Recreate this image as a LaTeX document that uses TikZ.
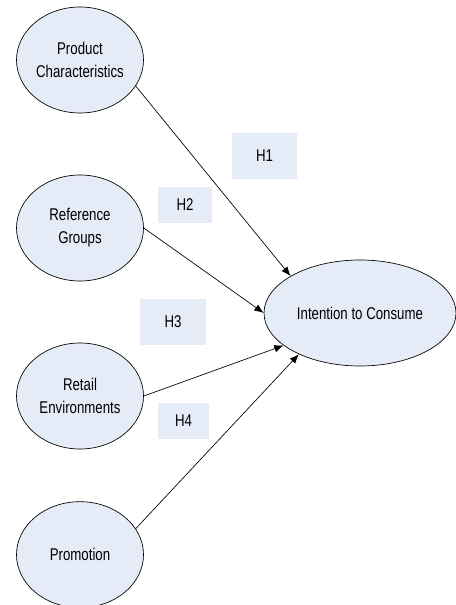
\documentclass[tikz,border=0pt]{standalone}
\usepackage{fontspec}
\setmainfont[FakeStretch=0.78]{Liberation Sans}
\usepackage{tikz}
\usetikzlibrary{positioning,shapes.geometric,arrows.meta}
\usepackage{xcolor}
\definecolor{paleblue}{RGB}{230,236,247}
\tikzstyle{factor} = [ellipse, minimum width=95.25pt, minimum height=79.5pt, inner sep=0pt, align=center, draw=black, line width=0.5pt, fill=paleblue, font=\fontsize{12.75}{17.25}\selectfont]
\tikzstyle{outcome} = [factor, minimum width=144pt]
\tikzstyle{hyp} = [rectangle, inner sep=0pt, fill=paleblue, font=\fontsize{12.75}{15}\selectfont]
\tikzstyle{arrow} = [line width=0.5pt, -{Latex[length=7pt,width=5.5pt]}]

\begin{document}
\begin{tikzpicture}[x=0.75pt, y=-0.75pt, node distance=126pt]
        \useasboundingbox (0,0) rectangle (455,605);

        \node (product) [factor] at (80,60) {Product\\Characteristics};
        \node (reference) [factor, below of=product] {Reference\\Groups};
        \node (retail) [factor, below of=reference] {Retail\\Environments};
        \node (promotion) [factor, below of=retail, yshift=7pt] {Promotion};
        \node (intention) [outcome] at (360,313) {Intention to Consume};

        \node (h1) [hyp, minimum width=48.75pt, minimum height=34.5pt] at (264.5,156) {H1};
        \node (h2) [hyp, minimum width=40.5pt, minimum height=27pt] at (185,205) {H2};
        \node (h3) [hyp, minimum width=49.5pt, minimum height=34.5pt] at (173,322) {H3};
        \node (h4) [hyp, minimum width=38.25pt, minimum height=27pt] at (183.5,421) {H4};

        \draw [arrow] (product.-25) -- (intention.152);
        \draw [arrow] (reference.east) -- (intention.west);
        \draw [arrow] (retail.east) -- (intention.203);
        \draw [arrow] (promotion.25) -- (intention.214);
    \end{tikzpicture}
\end{document}
